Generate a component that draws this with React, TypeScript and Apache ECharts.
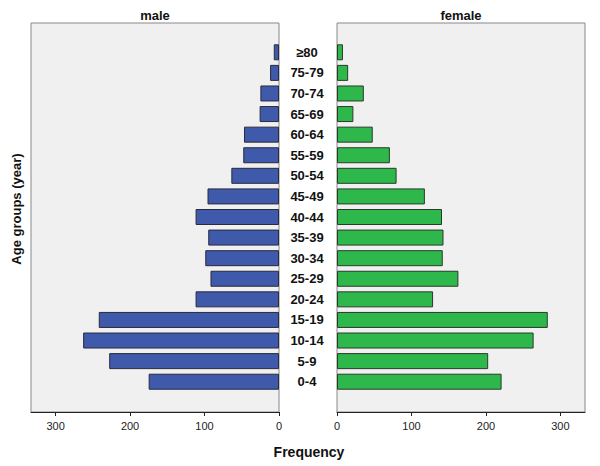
import React, { useEffect, useRef } from "react";
import * as echarts from "echarts";

const ageGroups = ["0-4", "5-9", "10-14", "15-19", "20-24", "25-29", "30-34", "35-39", "40-44", "45-49", "50-54", "55-59", "60-64", "65-69", "70-74", "75-79", "≥80"];
const maleValues = [175, 228, 263, 242, 112, 92, 99, 95, 112, 96, 64, 48, 47, 26, 25, 12, 7];
const femaleValues = [221, 203, 264, 283, 129, 163, 142, 143, 141, 118, 80, 71, 48, 22, 36, 15, 8];
const tickValues = [0, 100, 200, 300];
const axisMax = 333;

export default function App() {
  const ref = useRef<HTMLDivElement>(null);
  useEffect(() => {
    document.body.style.margin = "0";
    if (!ref.current) return;
    const chart = echarts.init(ref.current, null, { renderer: "svg" });
    const font = "Arial, 'Liberation Sans', sans-serif";
    const gridTop = 42;
    const gridH = 350;
    const panelTop = 23;
    const panelBottom = 412;
    const xAxisCommon = (inverse: boolean, gridIndex: number) => ({
      type: "value",
      gridIndex,
      inverse,
      min: 0,
      max: axisMax,
      offset: panelBottom - (gridTop + gridH),
      splitLine: { show: false },
      axisLine: { show: true, lineStyle: { color: "#222", width: 1 } },
      axisTick: { show: true, length: 4, lineStyle: { color: "#222" }, customValues: tickValues },
      axisLabel: { show: true, color: "#222", fontSize: 11, fontFamily: font, margin: 8, customValues: tickValues },
    });
    chart.setOption({
      animation: false,
      textStyle: { fontFamily: font },
      grid: [
        { left: 31, width: 248, top: gridTop, height: gridH },
        { left: 337, width: 248, top: gridTop, height: gridH },
      ],
      xAxis: [xAxisCommon(true, 0), xAxisCommon(false, 1)],
      yAxis: [
        {
          type: "category",
          gridIndex: 0,
          data: ageGroups,
          position: "right",
          axisLine: { show: false },
          axisTick: { show: false },
          axisLabel: { show: false },
        },
        {
          type: "category",
          gridIndex: 1,
          data: ageGroups,
          position: "left",
          axisLine: { show: false },
          axisTick: { show: false },
          axisLabel: {
            show: true,
            align: "center",
            margin: 30,
            fontSize: 13,
            fontWeight: "bold",
            color: "#111",
            fontFamily: font,
          },
        },
      ],
      graphic: [
        {
          type: "rect",
          z: 0,
          shape: { x: 31, y: panelTop, width: 248, height: panelBottom - panelTop },
          style: { fill: "#f0f0f0", stroke: "#888", lineWidth: 1 },
        },
        {
          type: "rect",
          z: 0,
          shape: { x: 337, y: panelTop, width: 248, height: panelBottom - panelTop },
          style: { fill: "#f0f0f0", stroke: "#888", lineWidth: 1 },
        },
        {
          type: "text",
          x: 155,
          y: 15.5,
          style: { text: "male", fill: "#111", font: `bold 13px ${font}`, textAlign: "center", textVerticalAlign: "middle" },
        },
        {
          type: "text",
          x: 461,
          y: 15.5,
          style: { text: "female", fill: "#111", font: `bold 13px ${font}`, textAlign: "center", textVerticalAlign: "middle" },
        },
        {
          type: "text",
          x: 309,
          y: 452,
          style: { text: "Frequency", fill: "#111", font: `bold 14px ${font}`, textAlign: "center", textVerticalAlign: "middle" },
        },
        {
          type: "text",
          x: 16,
          y: 209,
          rotation: Math.PI / 2,
          style: { text: "Age groups (year)", fill: "#111", font: `bold 13px ${font}`, textAlign: "center", textVerticalAlign: "middle" },
        },
      ],
      series: [
        {
          type: "bar",
          name: "male",
          xAxisIndex: 0,
          yAxisIndex: 0,
          data: maleValues,
          barWidth: 16,
          z: 3,
          itemStyle: { color: "#3f59ab", borderColor: "#2a2a3a", borderWidth: 1 },
        },
        {
          type: "bar",
          name: "female",
          xAxisIndex: 1,
          yAxisIndex: 1,
          data: femaleValues,
          barWidth: 16,
          z: 3,
          itemStyle: { color: "#2eb84b", borderColor: "#2a3a2a", borderWidth: 1 },
        },
      ],
    });
    return () => chart.dispose();
  }, []);
  return <div ref={ref} style={{ width: 600, height: 466 }} />;
}
